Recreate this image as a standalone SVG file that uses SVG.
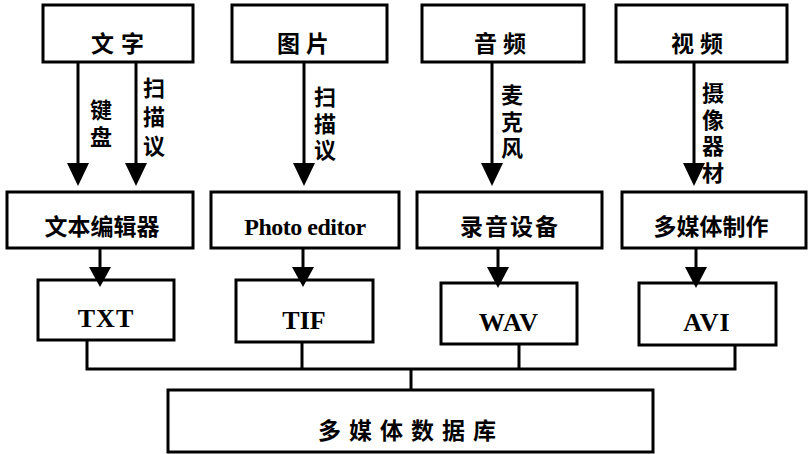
<svg xmlns="http://www.w3.org/2000/svg" width="808" height="454" viewBox="0 0 808 454">
<style>
.box{fill:#fff;stroke:#000;stroke-width:3}
.cn{font-family:"Noto Sans CJK SC","Liberation Sans",sans-serif;font-weight:700;font-size:23px;fill:#000;text-anchor:middle}
.en{font-family:"Liberation Serif","Noto Sans CJK SC",serif;font-weight:700;fill:#000;text-anchor:middle}
.lbl{font-family:"Noto Sans CJK SC","Liberation Sans",sans-serif;font-weight:700;font-size:22px;fill:#000;writing-mode:vertical-rl;text-anchor:start}
.ln{stroke:#000;stroke-width:3;fill:none}
.ah{fill:#000}
</style>
<rect width="808" height="454" fill="#fff"/>
<g id="n-text"><rect class="box" x="43" y="5" width="150" height="57"/><text class="cn" x="121" y="52" letter-spacing="7">文字</text></g>
<g id="n-image"><rect class="box" x="232" y="5" width="155" height="57"/><text class="cn" x="306" y="52" letter-spacing="6">图片</text></g>
<g id="n-audio"><rect class="box" x="422" y="5" width="162" height="57"/><text class="cn" x="503" y="52" letter-spacing="6">音频</text></g>
<g id="n-video"><rect class="box" x="616" y="5" width="171" height="57"/><text class="cn" x="700" y="52" letter-spacing="6">视频</text></g>

<g id="n-editor"><rect class="box" x="7" y="192" width="186" height="56"/><text class="cn" x="102" y="235" font-size="24">文本编辑器</text></g>
<g id="n-photo"><rect class="box" x="211" y="192" width="188" height="56"/><text class="en" x="305" y="235" font-size="24" letter-spacing="-0.5">Photo editor</text></g>
<g id="n-record"><rect class="box" x="417" y="192" width="185" height="56"/><text class="cn" x="510" y="235" font-size="24" letter-spacing="2">录音设备</text></g>
<g id="n-mmmake"><rect class="box" x="622" y="192" width="184" height="56"/><text class="cn" x="711" y="235" font-size="24">多媒体制作</text></g>

<g id="n-txt"><rect class="box" x="38" y="280" width="136" height="60"/><text class="en" x="106" y="327" font-size="26" letter-spacing="1">TXT</text></g>
<g id="n-tif"><rect class="box" x="236" y="280" width="137" height="62"/><text class="en" x="304" y="329" font-size="26">TIF</text></g>
<g id="n-wav"><rect class="box" x="441" y="283" width="136" height="61"/><text class="en" x="509" y="331" font-size="26" letter-spacing="1">WAV</text></g>
<g id="n-avi"><rect class="box" x="639" y="283" width="137" height="62"/><text class="en" x="707" y="331" font-size="26" letter-spacing="1">AVI</text></g>

<g id="n-db"><rect class="box" x="168" y="390" width="485" height="62"/><text class="cn" x="411" y="439" font-size="23" letter-spacing="8">多媒体数据库</text></g>

<g id="connectors">
<line class="ln" x1="78" y1="62" x2="78" y2="168"/><polygon class="ah" points="67,163 89,163 78,186"/>
<line class="ln" x1="136" y1="62" x2="136" y2="168"/><polygon class="ah" points="125,163 147,163 136,186"/>
<line class="ln" x1="304" y1="62" x2="304" y2="168"/><polygon class="ah" points="293,163 315,163 304,186"/>
<line class="ln" x1="492" y1="62" x2="492" y2="168"/><polygon class="ah" points="481,163 503,163 492,186"/>
<line class="ln" x1="694" y1="62" x2="694" y2="168"/><polygon class="ah" points="683,163 705,163 694,186"/>
<line class="ln" x1="100" y1="248" x2="100" y2="270"/><polygon class="ah" points="89,267 111,267 100,287"/>
<line class="ln" x1="303" y1="248" x2="303" y2="270"/><polygon class="ah" points="292,267 314,267 303,287"/>
<line class="ln" x1="498" y1="248" x2="498" y2="270"/><polygon class="ah" points="487,267 509,267 498,288"/>
<line class="ln" x1="696" y1="248" x2="696" y2="270"/><polygon class="ah" points="685,267 707,267 696,288"/>
<polyline class="ln" points="87,340 87,369 735,369 735,345"/>
<line class="ln" x1="302" y1="342" x2="302" y2="369"/>
<line class="ln" x1="519" y1="344" x2="519" y2="369"/>
<line class="ln" x1="411" y1="369" x2="411" y2="390"/>
<text class="lbl" x="101" y="99" letter-spacing="5">键盘</text>
<text class="lbl" x="154" y="77" letter-spacing="7">扫描议</text>
<text class="lbl" x="325" y="86" letter-spacing="4.5">扫描议</text>
<text class="lbl" x="512" y="84" letter-spacing="4.5">麦克风</text>
<text class="lbl" x="713" y="82" letter-spacing="4.5">摄像器材</text>
</g>
</svg>
